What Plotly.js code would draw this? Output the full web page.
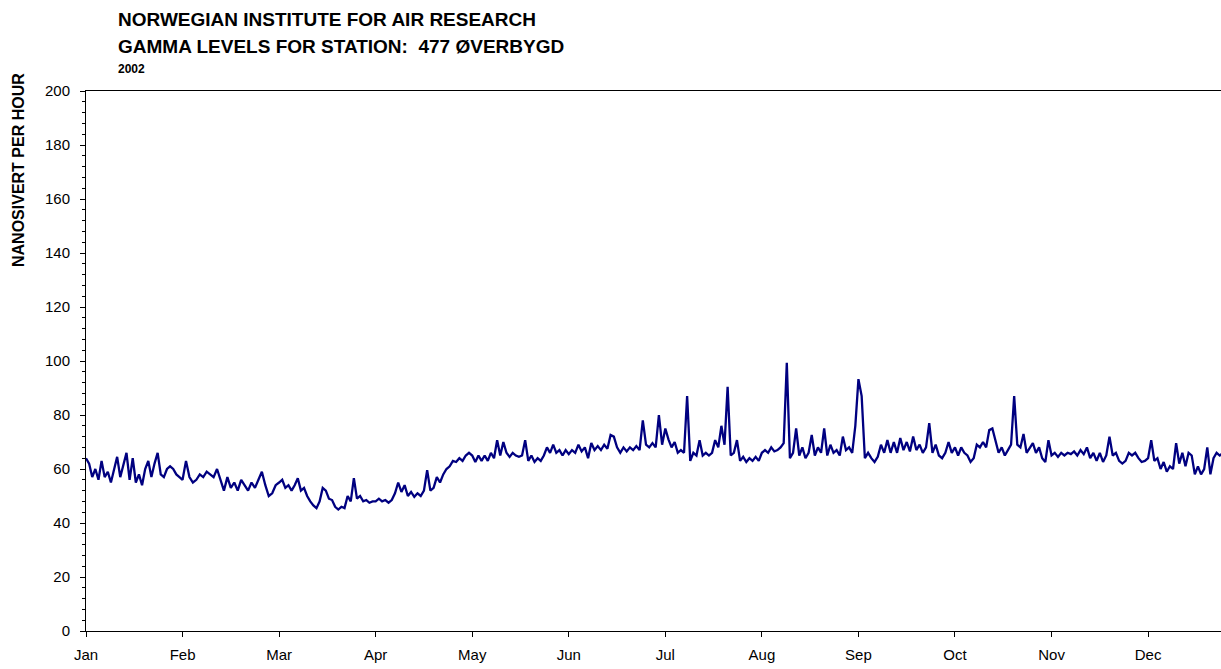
<!DOCTYPE html>
<html>
<head>
<meta charset="utf-8">
<script src="https://cdn.plot.ly/plotly-3.0.1.min.js"></script>
<style>html,body{margin:0;padding:0;background:#fff;}#chart{width:1221px;height:669px;}</style>
</head>
<body>
<div id="chart"></div>
<script>
// Month tick labels (months are drawn equally spaced, as in the original chart)
const monthLabels = ["Jan","Feb","Mar","Apr","May","Jun","Jul","Aug","Sep","Oct","Nov","Dec"];
const daysInMonth = [31,28,31,30,31,30,31,31,30,31,30,31];

// Daily gamma levels (nSv/h), month by month
const jan = [64,62,57,60,56,63,57,59,55,60,64.5,57,62,66,56,64,55,58,54,60,63,57,62,66,58,57,60,61,60,58,57];
const feb = [56,63,57,55,56,58,57,59,58,57,60,56,52,57,53,55,52,56,54,52,55,53,56,59,54,50,51,54];
const mar = [55,56,53,54,52,54,56.6,52,53,50,48,46.5,45.5,48,53,52,49,48.5,46,45,46,45.5,50,48,56.6,49,50,48,48.5,47.5,48];
const apr = [48,49,48,48.5,47.5,48.5,51,55,51.5,54,50,51.5,49.7,51,50,52,59.6,52,53,57,55,58,60,61,63,62.6,64,63,65,66];
const may = [65,62.6,65,63,65,63,66,64,70.7,65,70,66,64.5,66,65,64.5,65,70.7,63,65,62.6,64,63,65,68,66,69,66,67,65,67];
const jun = [65.5,67,66,69,66.5,68,64,69.6,67,68.5,67,69,67.5,72.6,72,68,66,68,66.5,68,67,68.5,67,78,69,68,69.6,68,80,69];
const jul = [75,71,68,70,66,67,66,87,63,66,65,70.7,65,66,65,66,70.7,68,76,69,90.4,65,66,70.7,63,64.5,62.6,64,63,64.5,63];
const aug = [66,67,66,68,66.5,67,68,69.6,99.3,64,66,75,65,68,64,66,72.6,65,68,66,75,65,69,66,67,65,72,67,68,66,76];
const sep = [93.3,87,64,66,64,62.6,64.5,69,66,70.7,66,70,66,71.5,67,70,66.5,72,67,69,66,68,77,66,69,65,64,66,70,66];
const oct = [68,65,68,66,65,62.6,64,69,68,70,68,74.4,75,71,66,68,65,67,69,87,69,68,73,66,68,69.6,66,68,64,62.6,70.7];
const nov = [65,66,64.5,66,65,66,65.5,66.5,65,67,65.5,68,64,66,63,66,62.6,65,72,65,66,63,62,63,66,65,66,64,62.6,63];
const dec = [64,70.7,63,64,60,62.6,59,61,60,69.6,62,66,61,66,65,58,61,58,60,68,58,64,66,65,66];

const months = [jan,feb,mar,apr,may,jun,jul,aug,sep,oct,nov,dec];
const xs = [], ys = [];
months.forEach((vals, m) => {
  vals.forEach((v, d) => {
    xs.push(m + d / daysInMonth[m]);
    ys.push(v);
  });
});

const font = "Liberation Sans, Arial, Helvetica, sans-serif";

const trace = {
  x: xs, y: ys, type: "scatter", mode: "lines",
  line: {color: "#000080", width: 2.3},
  hoverinfo: "skip"
};

const plotW = 1221 - 86;
const plotH = 631 - 91;
const px = v => (v - 86) / plotW;
const py = v => (631 - v) / plotH;

const layout = {
  width: 1221, height: 669,
  margin: {l: 86, r: 0, t: 91, b: 38, pad: 0},
  paper_bgcolor: "#ffffff", plot_bgcolor: "#ffffff",
  showlegend: false,
  font: {family: font, color: "#000000", size: 15},
  xaxis: {
    range: [0, 11.755],
    tickmode: "array",
    tickvals: monthLabels.map((_, i) => i),
    ticktext: monthLabels,
    ticks: "outside", ticklen: 5, tickwidth: 1, tickcolor: "#000",
    ticklabelstandoff: 5,
    showline: true, linecolor: "#000", linewidth: 1, mirror: true,
    showgrid: false, zeroline: false,
    tickfont: {family: font, size: 15, color: "#000"}
  },
  yaxis: {
    range: [0, 200],
    tickmode: "linear", tick0: 0, dtick: 20,
    ticks: "outside", ticklen: 5, tickwidth: 1, tickcolor: "#000",
    ticklabelstandoff: 7,
    minor: {dtick: 4, ticks: "outside", ticklen: 3, tickcolor: "#000", showgrid: false},
    showline: true, linecolor: "#000", linewidth: 1,
    showgrid: false, zeroline: false,
    tickfont: {family: font, size: 15, color: "#000"}
  },
  annotations: [
    {text: "<b>NORWEGIAN INSTITUTE FOR AIR RESEARCH</b>", xref: "paper", yref: "paper",
     x: px(116), y: py(20), xanchor: "left", yanchor: "middle", showarrow: false,
     font: {family: font, size: 19, color: "#000"}},
    {text: "<b>GAMMA LEVELS FOR STATION:  477 ØVERBYGD</b>", xref: "paper", yref: "paper",
     x: px(116), y: py(46), xanchor: "left", yanchor: "middle", showarrow: false,
     font: {family: font, size: 19, color: "#000"}},
    {text: "<b>2002</b>", xref: "paper", yref: "paper",
     x: px(116), y: py(69), xanchor: "left", yanchor: "middle", showarrow: false,
     font: {family: font, size: 12, color: "#000"}},
    {text: "<b>NANOSIVERT PER HOUR</b>", xref: "paper", yref: "paper",
     x: px(18), y: py(170), xanchor: "center", yanchor: "middle", showarrow: false,
     textangle: -90,
     font: {family: font, size: 16, color: "#000"}}
  ]
};

Plotly.newPlot("chart", [trace], layout, {displayModeBar: false, staticPlot: true});
</script>
</body>
</html>
